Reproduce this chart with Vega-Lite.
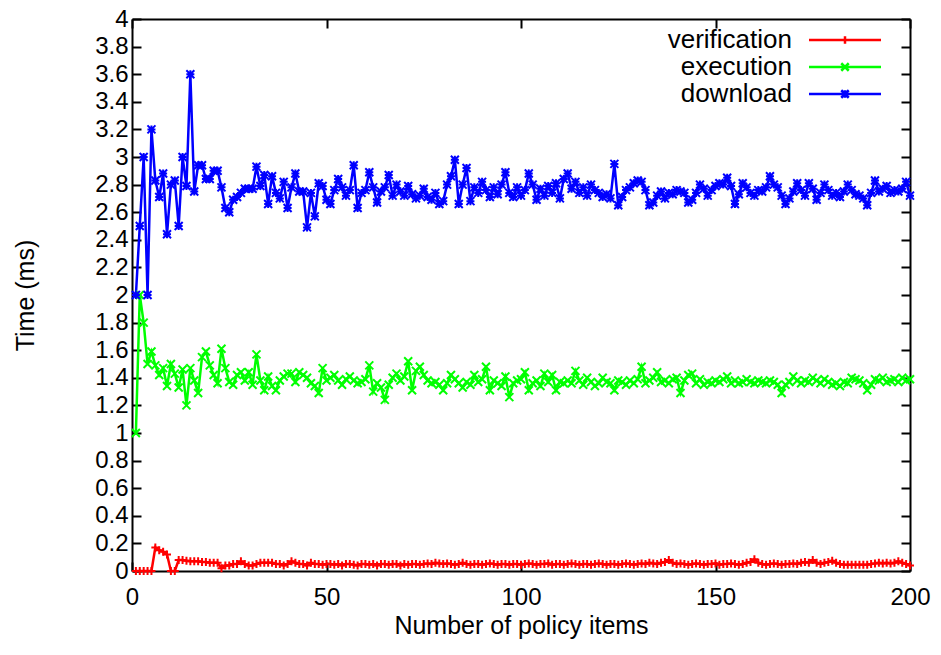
{
"$schema": "https://vega.github.io/schema/vega-lite/v6.json",
"autosize": "none",
"padding": {"left": 132, "top": 19, "right": 31, "bottom": 84},
"width": 778,
"height": 552,
"background": "white",
"data": {"values": [
{"x":1,"verification":0,"execution":1.00,"download":2.00},
{"x":2,"verification":0,"execution":2.00,"download":2.50},
{"x":3,"verification":0,"execution":1.80,"download":3.00},
{"x":4,"verification":0,"execution":1.50,"download":2.00},
{"x":5,"verification":0,"execution":1.59,"download":3.20},
{"x":6,"verification":0.17,"execution":1.49,"download":2.83},
{"x":7,"verification":0.15,"execution":1.42,"download":2.71},
{"x":8,"verification":0.14,"execution":1.47,"download":2.88},
{"x":9,"verification":0.12,"execution":1.34,"download":2.44},
{"x":10,"verification":0,"execution":1.50,"download":2.80},
{"x":11,"verification":0,"execution":1.43,"download":2.83},
{"x":12,"verification":0.08,"execution":1.33,"download":2.50},
{"x":13,"verification":0.08,"execution":1.46,"download":3.00},
{"x":14,"verification":0.075,"execution":1.20,"download":2.79},
{"x":15,"verification":0.07,"execution":1.47,"download":3.60},
{"x":16,"verification":0.07,"execution":1.38,"download":2.75},
{"x":17,"verification":0.07,"execution":1.29,"download":2.94},
{"x":18,"verification":0.065,"execution":1.55,"download":2.94},
{"x":19,"verification":0.065,"execution":1.59,"download":2.84},
{"x":20,"verification":0.06,"execution":1.49,"download":2.84},
{"x":21,"verification":0.06,"execution":1.42,"download":2.90},
{"x":22,"verification":0.06,"execution":1.36,"download":2.90},
{"x":23,"verification":0.02,"execution":1.61,"download":2.78},
{"x":24,"verification":0.04,"execution":1.47,"download":2.63},
{"x":25,"verification":0.04,"execution":1.37,"download":2.60},
{"x":26,"verification":0.05,"execution":1.35,"download":2.69},
{"x":27,"verification":0.05,"execution":1.42,"download":2.71},
{"x":28,"verification":0.07,"execution":1.44,"download":2.74},
{"x":29,"verification":0.05,"execution":1.38,"download":2.77},
{"x":30,"verification":0.04,"execution":1.44,"download":2.77},
{"x":31,"verification":0.04,"execution":1.35,"download":2.77},
{"x":32,"verification":0.05,"execution":1.57,"download":2.93},
{"x":33,"verification":0.06,"execution":1.38,"download":2.79},
{"x":34,"verification":0.06,"execution":1.31,"download":2.87},
{"x":35,"verification":0.06,"execution":1.41,"download":2.66},
{"x":36,"verification":0.06,"execution":1.34,"download":2.86},
{"x":37,"verification":0.05,"execution":1.31,"download":2.74},
{"x":38,"verification":0.05,"execution":1.38,"download":2.70},
{"x":39,"verification":0.04,"execution":1.41,"download":2.82},
{"x":40,"verification":0.05,"execution":1.43,"download":2.63},
{"x":41,"verification":0.07,"execution":1.43,"download":2.78},
{"x":42,"verification":0.06,"execution":1.37,"download":2.88},
{"x":43,"verification":0.05,"execution":1.44,"download":2.75},
{"x":44,"verification":0.05,"execution":1.42,"download":2.75},
{"x":45,"verification":0.04,"execution":1.40,"download":2.49},
{"x":46,"verification":0.06,"execution":1.36,"download":2.74},
{"x":47,"verification":0.05,"execution":1.34,"download":2.57},
{"x":48,"verification":0.05,"execution":1.29,"download":2.81},
{"x":49,"verification":0.045,"execution":1.47,"download":2.79},
{"x":50,"verification":0.05,"execution":1.38,"download":2.69},
{"x":51,"verification":0.05,"execution":1.40,"download":2.66},
{"x":52,"verification":0.045,"execution":1.42,"download":2.76},
{"x":53,"verification":0.05,"execution":1.38,"download":2.84},
{"x":54,"verification":0.04,"execution":1.35,"download":2.78},
{"x":55,"verification":0.05,"execution":1.39,"download":2.72},
{"x":56,"verification":0.05,"execution":1.41,"download":2.76},
{"x":57,"verification":0.045,"execution":1.38,"download":2.94},
{"x":58,"verification":0.04,"execution":1.36,"download":2.63},
{"x":59,"verification":0.05,"execution":1.37,"download":2.74},
{"x":60,"verification":0.05,"execution":1.39,"download":2.76},
{"x":61,"verification":0.045,"execution":1.49,"download":2.89},
{"x":62,"verification":0.05,"execution":1.30,"download":2.78},
{"x":63,"verification":0.04,"execution":1.36,"download":2.67},
{"x":64,"verification":0.05,"execution":1.33,"download":2.75},
{"x":65,"verification":0.05,"execution":1.24,"download":2.78},
{"x":66,"verification":0.045,"execution":1.35,"download":2.87},
{"x":67,"verification":0.05,"execution":1.40,"download":2.72},
{"x":68,"verification":0.05,"execution":1.43,"download":2.80},
{"x":69,"verification":0.04,"execution":1.38,"download":2.75},
{"x":70,"verification":0.05,"execution":1.41,"download":2.72},
{"x":71,"verification":0.045,"execution":1.52,"download":2.79},
{"x":72,"verification":0.05,"execution":1.31,"download":2.73},
{"x":73,"verification":0.05,"execution":1.45,"download":2.70},
{"x":74,"verification":0.045,"execution":1.48,"download":2.72},
{"x":75,"verification":0.05,"execution":1.42,"download":2.77},
{"x":76,"verification":0.055,"execution":1.38,"download":2.71},
{"x":77,"verification":0.05,"execution":1.36,"download":2.69},
{"x":78,"verification":0.06,"execution":1.37,"download":2.74},
{"x":79,"verification":0.055,"execution":1.35,"download":2.66},
{"x":80,"verification":0.05,"execution":1.31,"download":2.68},
{"x":81,"verification":0.055,"execution":1.36,"download":2.80},
{"x":82,"verification":0.05,"execution":1.42,"download":2.86},
{"x":83,"verification":0.045,"execution":1.39,"download":2.98},
{"x":84,"verification":0.05,"execution":1.36,"download":2.66},
{"x":85,"verification":0.06,"execution":1.33,"download":2.80},
{"x":86,"verification":0.05,"execution":1.37,"download":2.92},
{"x":87,"verification":0.045,"execution":1.35,"download":2.68},
{"x":88,"verification":0.05,"execution":1.42,"download":2.78},
{"x":89,"verification":0.05,"execution":1.37,"download":2.74},
{"x":90,"verification":0.045,"execution":1.39,"download":2.82},
{"x":91,"verification":0.05,"execution":1.48,"download":2.76},
{"x":92,"verification":0.055,"execution":1.31,"download":2.71},
{"x":93,"verification":0.05,"execution":1.38,"download":2.78},
{"x":94,"verification":0.045,"execution":1.36,"download":2.73},
{"x":95,"verification":0.05,"execution":1.34,"download":2.80},
{"x":96,"verification":0.05,"execution":1.41,"download":2.89},
{"x":97,"verification":0.045,"execution":1.26,"download":2.74},
{"x":98,"verification":0.05,"execution":1.36,"download":2.71},
{"x":99,"verification":0.05,"execution":1.38,"download":2.78},
{"x":100,"verification":0.045,"execution":1.39,"download":2.72},
{"x":101,"verification":0.05,"execution":1.44,"download":2.76},
{"x":102,"verification":0.055,"execution":1.31,"download":2.88},
{"x":103,"verification":0.05,"execution":1.36,"download":2.80},
{"x":104,"verification":0.045,"execution":1.38,"download":2.69},
{"x":105,"verification":0.05,"execution":1.34,"download":2.77},
{"x":106,"verification":0.05,"execution":1.43,"download":2.72},
{"x":107,"verification":0.055,"execution":1.37,"download":2.79},
{"x":108,"verification":0.045,"execution":1.42,"download":2.74},
{"x":109,"verification":0.05,"execution":1.31,"download":2.81},
{"x":110,"verification":0.05,"execution":1.37,"download":2.70},
{"x":111,"verification":0.045,"execution":1.36,"download":2.84},
{"x":112,"verification":0.05,"execution":1.38,"download":2.88},
{"x":113,"verification":0.055,"execution":1.36,"download":2.77},
{"x":114,"verification":0.05,"execution":1.45,"download":2.82},
{"x":115,"verification":0.045,"execution":1.38,"download":2.74},
{"x":116,"verification":0.05,"execution":1.35,"download":2.78},
{"x":117,"verification":0.05,"execution":1.40,"download":2.72},
{"x":118,"verification":0.045,"execution":1.37,"download":2.80},
{"x":119,"verification":0.05,"execution":1.34,"download":2.76},
{"x":120,"verification":0.055,"execution":1.36,"download":2.74},
{"x":121,"verification":0.05,"execution":1.40,"download":2.71},
{"x":122,"verification":0.045,"execution":1.37,"download":2.73},
{"x":123,"verification":0.05,"execution":1.36,"download":2.70},
{"x":124,"verification":0.05,"execution":1.31,"download":2.95},
{"x":125,"verification":0.045,"execution":1.38,"download":2.65},
{"x":126,"verification":0.05,"execution":1.37,"download":2.71},
{"x":127,"verification":0.055,"execution":1.35,"download":2.76},
{"x":128,"verification":0.05,"execution":1.38,"download":2.78},
{"x":129,"verification":0.045,"execution":1.36,"download":2.81},
{"x":130,"verification":0.05,"execution":1.39,"download":2.83},
{"x":131,"verification":0.055,"execution":1.48,"download":2.82},
{"x":132,"verification":0.05,"execution":1.36,"download":2.76},
{"x":133,"verification":0.06,"execution":1.38,"download":2.65},
{"x":134,"verification":0.055,"execution":1.40,"download":2.67},
{"x":135,"verification":0.05,"execution":1.44,"download":2.72},
{"x":136,"verification":0.06,"execution":1.37,"download":2.75},
{"x":137,"verification":0.065,"execution":1.38,"download":2.70},
{"x":138,"verification":0.08,"execution":1.36,"download":2.74},
{"x":139,"verification":0.06,"execution":1.39,"download":2.73},
{"x":140,"verification":0.05,"execution":1.40,"download":2.76},
{"x":141,"verification":0.055,"execution":1.29,"download":2.75},
{"x":142,"verification":0.05,"execution":1.38,"download":2.74},
{"x":143,"verification":0.045,"execution":1.42,"download":2.67},
{"x":144,"verification":0.05,"execution":1.43,"download":2.69},
{"x":145,"verification":0.055,"execution":1.36,"download":2.74},
{"x":146,"verification":0.05,"execution":1.39,"download":2.80},
{"x":147,"verification":0.045,"execution":1.35,"download":2.77},
{"x":148,"verification":0.05,"execution":1.37,"download":2.72},
{"x":149,"verification":0.05,"execution":1.36,"download":2.76},
{"x":150,"verification":0.055,"execution":1.38,"download":2.79},
{"x":151,"verification":0.045,"execution":1.37,"download":2.81},
{"x":152,"verification":0.05,"execution":1.39,"download":2.80},
{"x":153,"verification":0.05,"execution":1.41,"download":2.85},
{"x":154,"verification":0.055,"execution":1.36,"download":2.79},
{"x":155,"verification":0.05,"execution":1.38,"download":2.66},
{"x":156,"verification":0.045,"execution":1.36,"download":2.73},
{"x":157,"verification":0.05,"execution":1.37,"download":2.81},
{"x":158,"verification":0.06,"execution":1.39,"download":2.78},
{"x":159,"verification":0.065,"execution":1.37,"download":2.74},
{"x":160,"verification":0.085,"execution":1.36,"download":2.72},
{"x":161,"verification":0.06,"execution":1.38,"download":2.76},
{"x":162,"verification":0.05,"execution":1.37,"download":2.75},
{"x":163,"verification":0.045,"execution":1.36,"download":2.78},
{"x":164,"verification":0.05,"execution":1.38,"download":2.86},
{"x":165,"verification":0.055,"execution":1.37,"download":2.80},
{"x":166,"verification":0.05,"execution":1.35,"download":2.78},
{"x":167,"verification":0.045,"execution":1.29,"download":2.72},
{"x":168,"verification":0.05,"execution":1.35,"download":2.66},
{"x":169,"verification":0.05,"execution":1.37,"download":2.70},
{"x":170,"verification":0.055,"execution":1.41,"download":2.75},
{"x":171,"verification":0.05,"execution":1.38,"download":2.81},
{"x":172,"verification":0.06,"execution":1.36,"download":2.76},
{"x":173,"verification":0.065,"execution":1.38,"download":2.72},
{"x":174,"verification":0.06,"execution":1.37,"download":2.81},
{"x":175,"verification":0.08,"execution":1.40,"download":2.77},
{"x":176,"verification":0.06,"execution":1.38,"download":2.69},
{"x":177,"verification":0.05,"execution":1.36,"download":2.74},
{"x":178,"verification":0.06,"execution":1.39,"download":2.80},
{"x":179,"verification":0.065,"execution":1.37,"download":2.76},
{"x":180,"verification":0.075,"execution":1.35,"download":2.72},
{"x":181,"verification":0.06,"execution":1.36,"download":2.74},
{"x":182,"verification":0.05,"execution":1.34,"download":2.71},
{"x":183,"verification":0.045,"execution":1.37,"download":2.75},
{"x":184,"verification":0.045,"execution":1.36,"download":2.80},
{"x":185,"verification":0.045,"execution":1.40,"download":2.76},
{"x":186,"verification":0.045,"execution":1.39,"download":2.73},
{"x":187,"verification":0.045,"execution":1.38,"download":2.72},
{"x":188,"verification":0.045,"execution":1.36,"download":2.70},
{"x":189,"verification":0.045,"execution":1.31,"download":2.65},
{"x":190,"verification":0.05,"execution":1.35,"download":2.74},
{"x":191,"verification":0.055,"execution":1.39,"download":2.83},
{"x":192,"verification":0.06,"execution":1.38,"download":2.75},
{"x":193,"verification":0.055,"execution":1.40,"download":2.77},
{"x":194,"verification":0.06,"execution":1.37,"download":2.79},
{"x":195,"verification":0.055,"execution":1.38,"download":2.74},
{"x":196,"verification":0.06,"execution":1.39,"download":2.76},
{"x":197,"verification":0.07,"execution":1.37,"download":2.75},
{"x":198,"verification":0.06,"execution":1.40,"download":2.77},
{"x":199,"verification":0.05,"execution":1.38,"download":2.82},
{"x":200,"verification":0.04,"execution":1.39,"download":2.72}
]},
"transform": [{"fold": ["verification", "execution", "download"], "as": ["series", "time"]}],
"layer": [
{
"mark": {"type": "line", "strokeWidth": 2.5, "clip": false},
"encoding": {
"x": {"field": "x", "type": "quantitative", "scale": {"domain": [0, 200], "nice": false},
  "axis": {"orient": "bottom", "values": [0, 50, 100, 150, 200], "labelFlush": false, "title": "Number of policy items", "titleY": 62, "titleBaseline": "alphabetic", "labelPadding": 23}},
"y": {"field": "time", "type": "quantitative", "scale": {"domain": [0, 4], "nice": false},
  "axis": {"orient": "left", "values": [0,0.2,0.4,0.6,0.8,1,1.2,1.4,1.6,1.8,2,2.2,2.4,2.6,2.8,3,3.2,3.4,3.6,3.8,4], "labelFlush": false, "format": "~g", "title": "Time (ms)", "titleX": -107, "titleY": 276, "titleAngle": -90, "titleBaseline": "middle", "titleAlign": "center", "labelPadding": 13}},
"color": {"field": "series", "type": "nominal",
  "scale": {"domain": ["verification", "execution", "download"], "range": ["#ff0000", "#00ff00", "#0000ff"]},
  "legend": {"orient": "none", "legendX": 700, "legendY": 8, "title": null, "padding": 0, "symbolSize": 100, "labelAlign": "right", "labelOffset": -66, "rowPadding": 1, "labelFontSize": 26, "labelFont": "Liberation Sans", "labelColor": "black", "labelLimit": 400,
    "encode": {"symbols": {"update": {"shape": {"signal": "datum.value === 'verification' ? 'M-7.2,0H7.2M0,-0.75V0.75' : datum.value === 'execution' ? 'M-7.2,0H7.2M-0.75,-0.75L0.75,0.75M-0.75,0.75L0.75,-0.75' : 'M-7.2,0H7.2M-0.75,-0.75L0.75,0.75M-0.75,0.75L0.75,-0.75M0,-0.75V0.75'"}, "strokeWidth": {"value": 2.5}, "fill": {"value": "transparent"}}}}}},
"order": {"field": "x", "type": "quantitative"}
}
},
{
"transform": [{"filter": "datum.series === 'verification'"}],
"mark": {"type": "point", "filled": false, "strokeWidth": 2, "size": 64, "opacity": 1, "clip": false, "shape": "M-1,0H1M0,-1V1", "color": "#ff0000"},
"encoding": {
"x": {"field": "x", "type": "quantitative", "scale": {"domain": [0, 200], "nice": false}, "axis": null},
"y": {"field": "time", "type": "quantitative", "scale": {"domain": [0, 4], "nice": false}, "axis": null}
}
},
{
"transform": [{"filter": "datum.series === 'execution'"}],
"mark": {"type": "point", "filled": false, "strokeWidth": 2, "size": 64, "opacity": 1, "clip": false, "shape": "M-1,-1L1,1M-1,1L1,-1", "color": "#00ff00"},
"encoding": {
"x": {"field": "x", "type": "quantitative", "scale": {"domain": [0, 200], "nice": false}, "axis": null},
"y": {"field": "time", "type": "quantitative", "scale": {"domain": [0, 4], "nice": false}, "axis": null}
}
},
{
"transform": [{"filter": "datum.series === 'download'"}],
"mark": {"type": "point", "filled": false, "strokeWidth": 2, "size": 64, "opacity": 1, "clip": false, "shape": "M-1,-1L1,1M-1,1L1,-1M-1,0H1M0,-1V1", "color": "#0000ff"},
"encoding": {
"x": {"field": "x", "type": "quantitative", "scale": {"domain": [0, 200], "nice": false},
  "axis": {"orient": "top", "values": [0, 50, 100, 150, 200], "labels": false, "title": null}},
"y": {"field": "time", "type": "quantitative", "scale": {"domain": [0, 4], "nice": false},
  "axis": {"orient": "right", "values": [0,0.2,0.4,0.6,0.8,1,1.2,1.4,1.6,1.8,2,2.2,2.4,2.6,2.8,3,3.2,3.4,3.6,3.8,4], "labels": false, "title": null}}
}
}
],
"resolve": {"axis": {"x": "independent", "y": "independent"}},
"config": {
"view": {"stroke": null},
"axis": {"domainColor": "black", "domainWidth": 2, "tickColor": "black", "tickWidth": 2, "tickSize": -9, "grid": false,
  "labelFont": "Liberation Sans", "labelFontSize": 24, "labelColor": "black",
  "titleFont": "Liberation Sans", "titleFontSize": 25, "titleFontWeight": "normal", "titleColor": "black"}
}
}
